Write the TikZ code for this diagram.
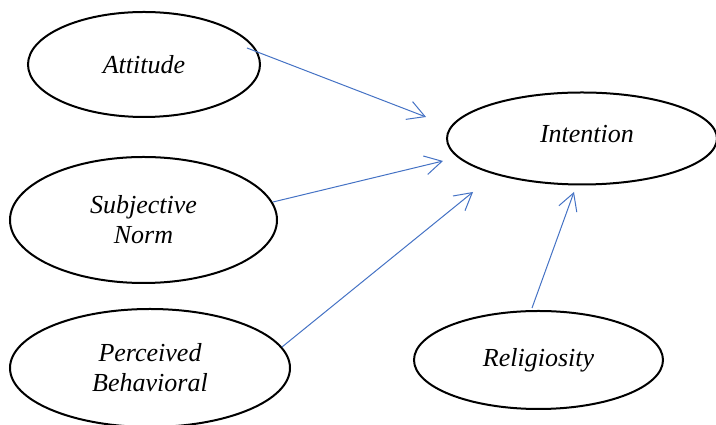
\documentclass[tikz,border=0pt]{standalone}
\usepackage{fontspec}
\setmainfont{Liberation Serif}
\usetikzlibrary{shapes.geometric,arrows.meta,calc}
\definecolor{arrowblue}{HTML}{4472C4}
\begin{document}
\begin{tikzpicture}[x=1pt,y=1pt,
  construct/.style={ellipse,draw=black,line width=2pt,inner sep=0pt,align=center,
    font=\fontsize{26}{30}\selectfont\itshape},
  link/.style={draw=arrowblue,line width=1pt,-{Straight Barb[length=17pt,width=19pt]}}]
\useasboundingbox (0,0) rectangle (716,425);
\node[construct,minimum width=232pt,minimum height=105pt] (att) at (144,360.5) {Attitude};
\node[construct,minimum width=267pt,minimum height=126pt] (sn) at (143.5,205) {Subjective\\Norm};
\node[construct,minimum width=280pt,minimum height=118pt] (pb) at (150,57) {Perceived\\Behavioral};
\node[construct,minimum width=270pt,minimum height=92pt] (int) at (582,286.5) {\hspace{10pt}\raisebox{10pt}{Intention}};
\node[construct,minimum width=249pt,minimum height=98pt] (rel) at (538.5,65) {Religiosity};
\coordinate (e1) at (426,308);
\coordinate (e2) at (443,264);
\coordinate (e3) at (473,233);
\coordinate (e4) at (574,233);
\draw[link] ($(att.center)+(103,16.5)$) -- (e1);
\draw[link] ($(sn.center)+(129.5,18)$) -- (e2);
\draw[link] ($(pb.center)+(132,21)$) -- (e3);
\draw[link] ($(rel.center)+(-6.5,52)$) -- (e4);
\end{tikzpicture}
\end{document}
